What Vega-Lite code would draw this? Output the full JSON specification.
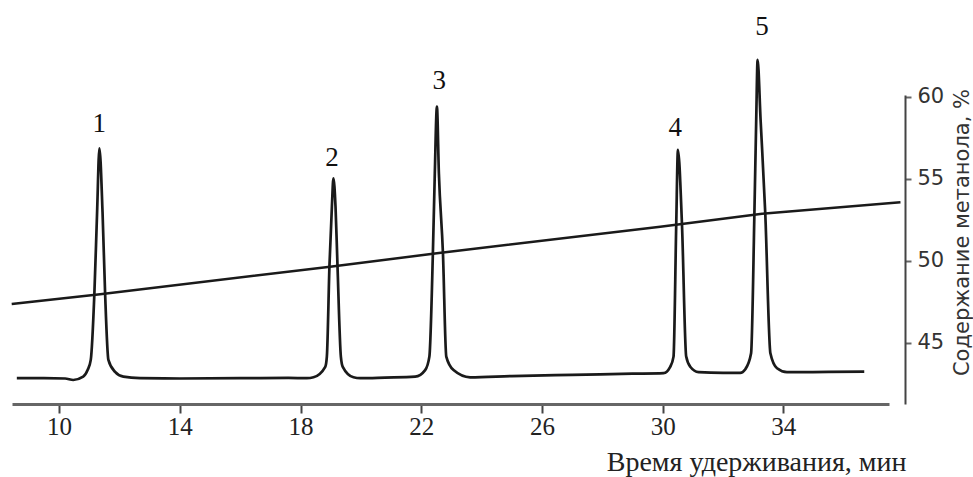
{
  "$schema": "https://vega.github.io/schema/vega-lite/v6.json",
  "autosize": {"type": "none"},
  "width": 877,
  "height": 309,
  "padding": {"left": 12, "top": 95, "right": 84, "bottom": 73},
  "background": "white",
  "config": {
    "view": {"stroke": null},
    "axisX": {
      "grid": false,
      "domainColor": "#666666", "domainWidth": 3,
      "tickColor": "#444444", "tickWidth": 2, "tickSize": 9,
      "labelFont": "Liberation Serif", "labelFontSize": 25, "labelColor": "#222222",
      "labelPadding": 1, "labelFlush": false,
      "titleFont": "Liberation Serif", "titleFontSize": 28, "titleFontWeight": "normal",
      "titleColor": "#222222", "titleAnchor": "end", "titleAlign": "right",
      "titleBaseline": "alphabetic", "titleX": 894, "titleY": 66
    },
    "axisY": {
      "grid": false,
      "domainColor": "#444444", "domainWidth": 2,
      "tickColor": "#666666", "tickWidth": 2, "tickSize": 6,
      "labelFont": "DejaVu Sans", "labelFontSize": 21, "labelColor": "#333333",
      "labelPadding": 6, "labelBaseline": "middle", "labelFlush": false,
      "titleFont": "DejaVu Sans", "titleFontSize": 21, "titleFontWeight": "normal",
      "titleColor": "#333333", "titleAngle": 270, "titleAlign": "center",
      "titleBaseline": "middle", "titleX": 57, "titleY": 137
    }
  },
  "datasets": {
    "signal": [
      {"t": 8.60, "s": -0.4}, {"t": 9.5, "s": -0.4}, {"t": 10.2, "s": -0.5}, {"t": 10.47, "s": -1.0},
      {"t": 10.80, "s": 0.1}, {"t": 10.945, "s": 2.3}, {"t": 11.05, "s": 5.7}, {"t": 11.17, "s": 27.9},
      {"t": 11.26, "s": 55}, {"t": 11.336, "s": 76.2}, {"t": 11.44, "s": 55}, {"t": 11.525, "s": 27.9},
      {"t": 11.634, "s": 5.7}, {"t": 11.856, "s": 1.7}, {"t": 12.13, "s": 0.1}, {"t": 12.685, "s": -0.4},
      {"t": 14, "s": -0.5}, {"t": 16, "s": -0.4}, {"t": 17.6, "s": -0.3}, {"t": 18.21, "s": -0.4},
      {"t": 18.43, "s": -0.1}, {"t": 18.82, "s": 3.4}, {"t": 18.873, "s": 6.8}, {"t": 18.96, "s": 37.3},
      {"t": 19.04, "s": 56.8}, {"t": 19.09, "s": 66.2}, {"t": 19.16, "s": 56.8}, {"t": 19.225, "s": 37.3},
      {"t": 19.337, "s": 6.8}, {"t": 19.40, "s": 3.4}, {"t": 19.755, "s": -0.1}, {"t": 19.98, "s": -0.4},
      {"t": 20.8, "s": -0.2}, {"t": 21.80, "s": 0.1}, {"t": 22.13, "s": 2.3}, {"t": 22.27, "s": 6.8},
      {"t": 22.386, "s": 41.2}, {"t": 22.45, "s": 67.9}, {"t": 22.52, "s": 90.1}, {"t": 22.585, "s": 67.9},
      {"t": 22.72, "s": 41.2}, {"t": 22.83, "s": 6.8}, {"t": 23.07, "s": 2.3}, {"t": 23.62, "s": -0.1},
      {"t": 25, "s": 0.3}, {"t": 27, "s": 0.7}, {"t": 29, "s": 1.1}, {"t": 30.03, "s": 1.3},
      {"t": 30.25, "s": 3.4}, {"t": 30.36, "s": 6.8}, {"t": 30.45, "s": 50.9}, {"t": 30.506, "s": 75.7},
      {"t": 30.64, "s": 50.9}, {"t": 30.78, "s": 6.8}, {"t": 30.915, "s": 3.4}, {"t": 31.19, "s": 1.6},
      {"t": 32, "s": 1.4}, {"t": 32.57, "s": 1.4}, {"t": 32.74, "s": 2.6}, {"t": 32.93, "s": 7.9},
      {"t": 33.04, "s": 54.6}, {"t": 33.10, "s": 85.7}, {"t": 33.146, "s": 105.7}, {"t": 33.245, "s": 85.7},
      {"t": 33.40, "s": 54.6}, {"t": 33.57, "s": 7.9}, {"t": 33.79, "s": 2.9}, {"t": 34.12, "s": 1.6},
      {"t": 35.5, "s": 1.7}, {"t": 36.68, "s": 1.8}
    ],
    "labels": [
      {"t": 11.33, "s": 84.3, "label": "1"},
      {"t": 19.04, "s": 73, "label": "2"},
      {"t": 22.6, "s": 98.7, "label": "3"},
      {"t": 30.42, "s": 83, "label": "4"},
      {"t": 33.29, "s": 116.7, "label": "5"}
    ],
    "gradient": [
      {"t": 8.43, "pct": 47.38}, {"t": 11.36, "pct": 47.97}, {"t": 18.98, "pct": 49.65},
      {"t": 22.52, "pct": 50.47}, {"t": 29.92, "pct": 52.09}, {"t": 33.23, "pct": 52.87},
      {"t": 37.88, "pct": 53.58}
    ]
  },
  "encoding": {
    "x": {
      "field": "t", "type": "quantitative",
      "scale": {"domain": [8.44, 37.5], "nice": false, "zero": false},
      "axis": {
        "values": [10, 14, 18, 22, 26, 30, 34],
        "title": "Время удерживания, мин",
        "encode": {"ticks": {"update": {"y2": {"value": -9}}}}
      }
    }
  },
  "layer": [
    {
      "data": {"name": "signal"},
      "mark": {"type": "line", "interpolate": "monotone", "color": "#1a1a1a", "strokeWidth": 2.7, "clip": false},
      "encoding": {
        "y": {"field": "s", "type": "quantitative", "scale": {"domain": [-9, 94], "nice": false, "zero": false}, "axis": null}
      }
    },
    {
      "data": {"name": "labels"},
      "mark": {"type": "text", "font": "Liberation Serif", "fontSize": 27, "color": "#111111", "baseline": "middle", "align": "center", "clip": false},
      "encoding": {
        "y": {"field": "s", "type": "quantitative", "scale": {"domain": [-9, 94], "nice": false, "zero": false}, "axis": null},
        "text": {"field": "label"}
      }
    },
    {
      "data": {"name": "gradient"},
      "mark": {"type": "line", "color": "#1a1a1a", "strokeWidth": 2.5, "clip": false},
      "encoding": {
        "y": {
          "field": "pct", "type": "quantitative",
          "scale": {"domain": [41.28, 60.12], "nice": false, "zero": false},
          "axis": {
            "orient": "right", "offset": 16,
            "values": [45, 50, 55, 60],
            "title": "Содержание метанола, %",
            "encode": {"ticks": {"update": {"x2": {"value": -6}}}}
          }
        }
      }
    }
  ],
  "resolve": {"scale": {"y": "independent"}, "axis": {"y": "independent"}}
}
